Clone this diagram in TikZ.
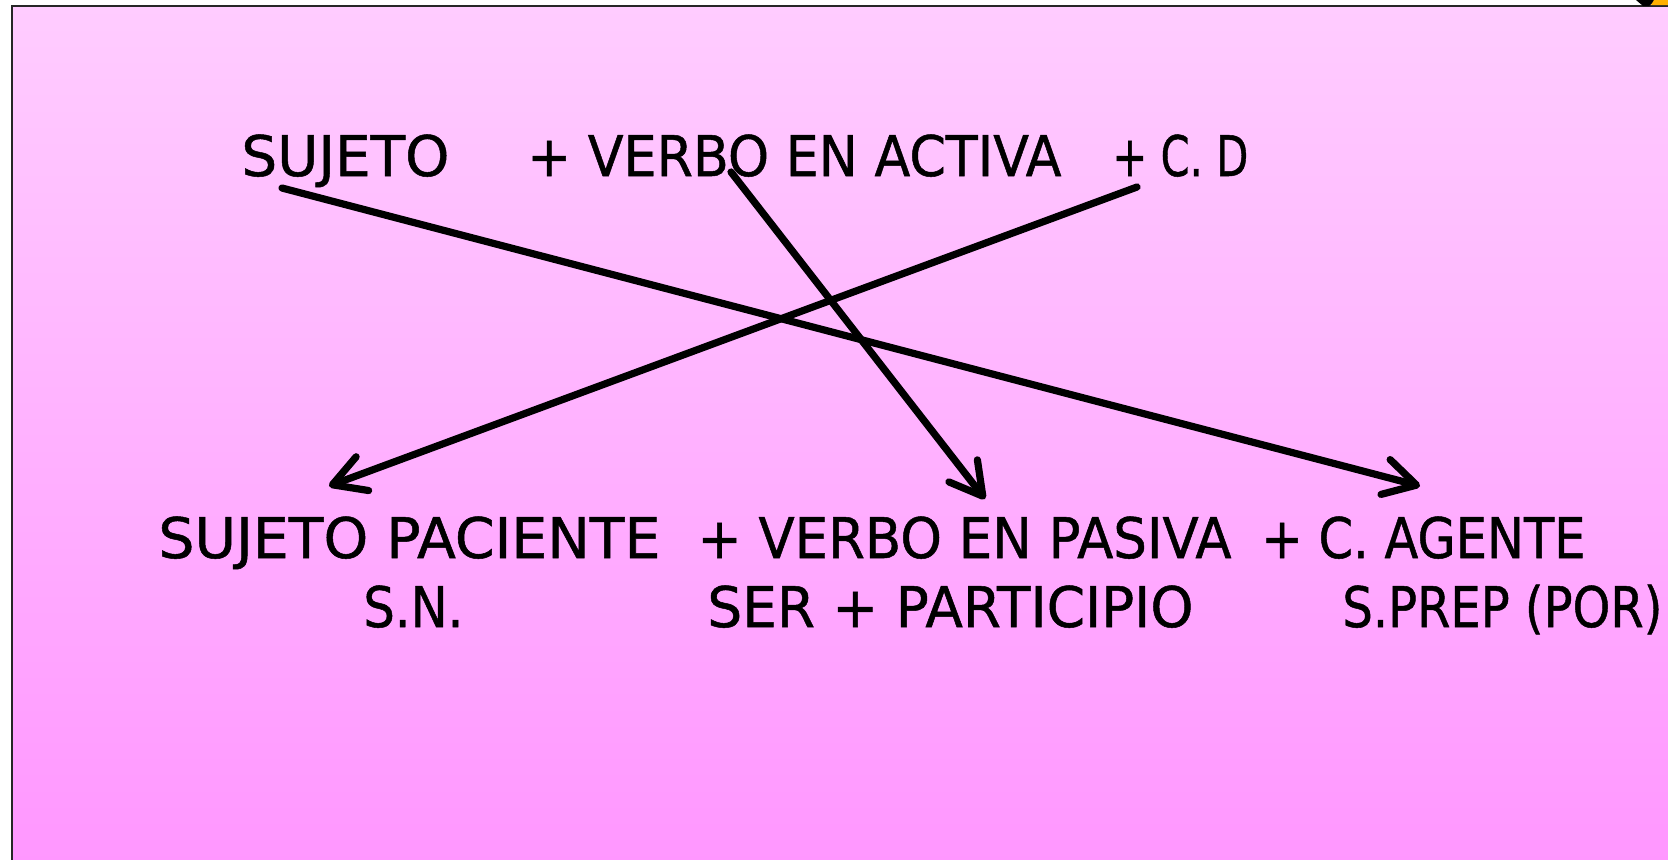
\documentclass[tikz,border=0pt]{standalone}
\usepackage{fontspec}
\setmainfont{DejaVu Sans}[FakeBold=0.9]
\usetikzlibrary{arrows.meta}
\definecolor{pinktop}{RGB}{255,204,255}
\definecolor{pinkbot}{RGB}{255,150,255}
\definecolor{slideorange}{RGB}{255,176,0}
\newcommand\fitw[2]{\resizebox{#1}{\height}{#2}}
\begin{document}
\begin{tikzpicture}[x=0.5pt,y=-0.5pt,
  lbl/.style={anchor=base west,inner sep=0pt,font=\fontsize{28}{34}\selectfont},
  conn/.style={line width=3.6pt,line cap=round,line join=round,-{Straight Barb[length=16pt,width=18pt,round]}}]
\useasboundingbox (0,0) rectangle (1668,859);
\clip (0,0) rectangle (1668,859);
\fill[white] (0,0) rectangle (1668,859);
\shade[top color=pinktop,bottom color=pinkbot,draw=black!85,line width=1.2pt] (12,6) rectangle (1700,880);
% decoration at the top right corner
\fill[black] (1636,0) -- (1656,0) -- (1649,6) -- (1643,6) -- cycle;
\fill[slideorange] (1654,0) -- (1668,0) -- (1668,5) -- (1651,5) -- cycle;
% top line
\node[lbl] (suj) at (241,176) {\fitw{104pt}{SUJETO}};
\node[lbl] (verbA) at (527,176) {\fitw{267pt}{+ VERBO EN ACTIVA}};
\node[lbl] (cd) at (1112,176) {\fitw{68pt}{+ C. D}};
% bottom lines
\node[lbl] (sujP) at (158,558) {\fitw{251pt}{SUJETO PACIENTE}};
\node[lbl] (verbP) at (697,558) {\fitw{267pt}{+ VERBO EN PASIVA}};
\node[lbl] (cag) at (1261,558) {\fitw{162pt}{+ C. AGENTE}};
\node[lbl] (sn) at (363,627) {\fitw{50pt}{S.N.}};
\node[lbl] (ser) at (707,627) {\fitw{243pt}{SER + PARTICIPIO}};
\node[lbl] (sprep) at (1342,627) {\fitw{160pt}{S.PREP (POR)}};
% connector ends
\coordinate (s1) at (282,188);
\coordinate (e1) at (1420,486);
\coordinate (s2) at (731,172);
\coordinate (e2) at (985,499);
\coordinate (s3) at (1137,187);
\coordinate (e3) at (329,486);
\draw[conn] (s1) -- (e1);
\draw[conn] (s2) -- (e2);
\draw[conn] (s3) -- (e3);
\end{tikzpicture}
\end{document}
